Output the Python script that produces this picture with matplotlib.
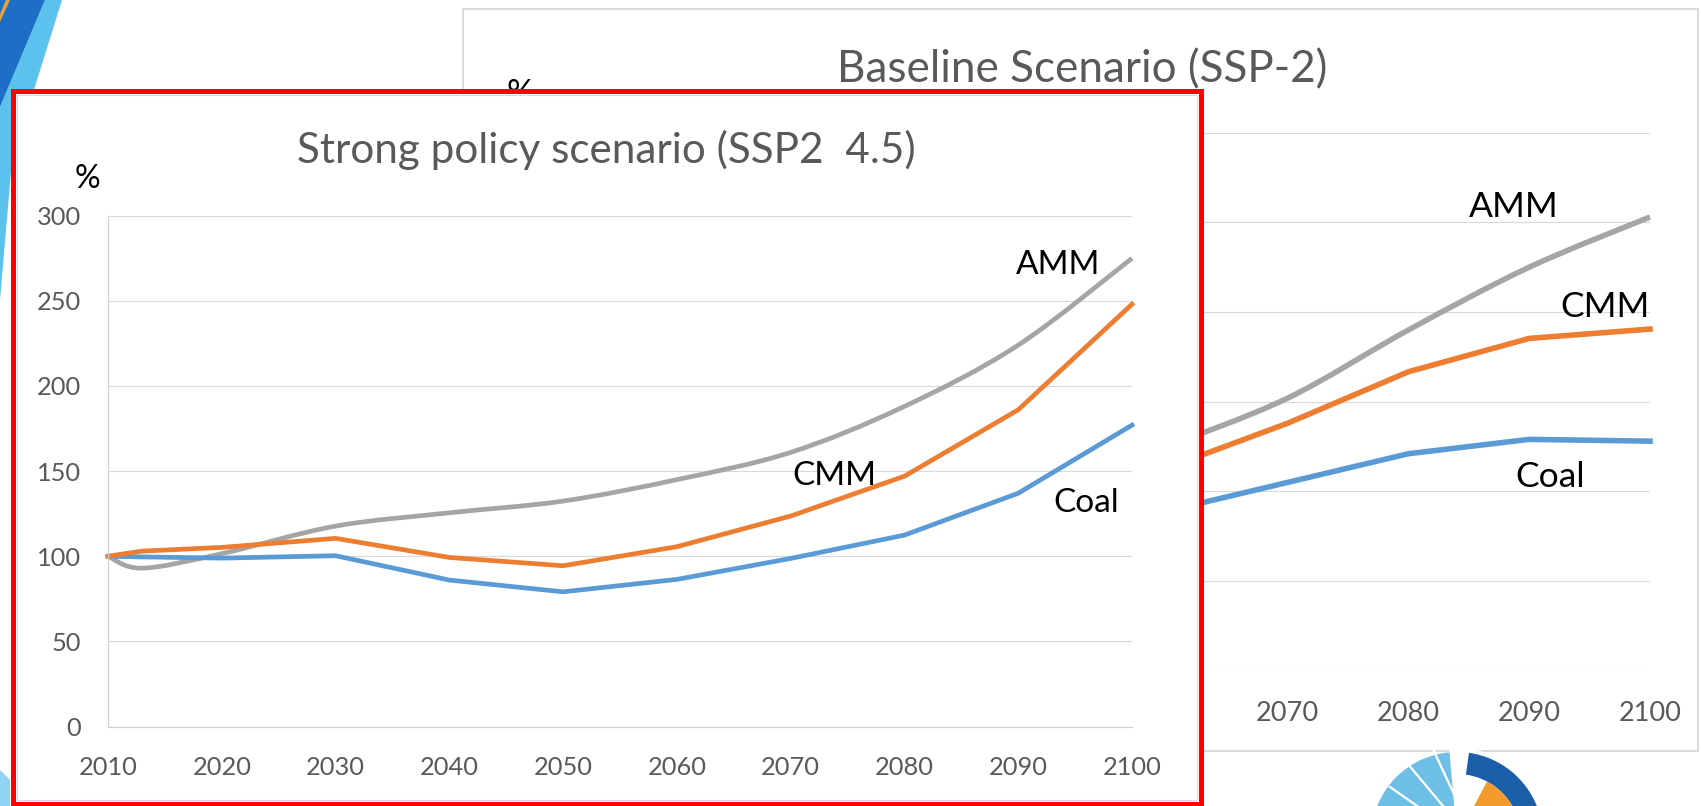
import matplotlib
matplotlib.use("Agg")
import matplotlib.pyplot as plt
from matplotlib.patches import Rectangle, Polygon, Wedge, PathPatch, Circle
from matplotlib.path import Path
from matplotlib.lines import Line2D
from matplotlib.transforms import Affine2D
import numpy as np

plt.rcParams['font.family'] = ['Lato', 'DejaVu Sans']

# ---------------- data ----------------
years_policy = [2010, 2013, 2020, 2030, 2040, 2050, 2060, 2070, 2080, 2090, 2100]
coal_policy = [100, 99.6, 98.9, 100.3, 86, 79.1, 86.4, 98.7, 112.4, 137, 177]
cmm_policy = [100, 103, 105.2, 110.5, 99.3, 94.4, 105.6, 123.6, 147, 186, 248]
amm_policy = [100, 93, 101.5, 117.7, 125.5, 132.4, 145, 161, 188, 224, 275]

# baseline chart: only the part to the right of the front chart is visible
years_base = [2060, 2070, 2080, 2090, 2100]
coal_base = [89, 105, 121, 129, 128]
cmm_base = [113, 138, 166.7, 185.3, 190.5]
amm_base = [125, 152, 190, 225, 253]

x_ticks = [2010, 2020, 2030, 2040, 2050, 2060, 2070, 2080, 2090, 2100]
y_ticks = [0, 50, 100, 150, 200, 250, 300]

title_policy = "Strong policy scenario (SSP2  4.5)"
title_base = "Baseline Scenario (SSP-2)"

C_COAL = '#5B9BD5'
C_CMM = '#ED7D31'
C_AMM = '#A5A5A5'
C_GRID = '#D9D9D9'
C_TXT = '#595959'

W, H, DPI = 1701, 806, 100
fig = plt.figure(figsize=(W / DPI, H / DPI), dpi=DPI)
fig.patch.set_facecolor('white')
# pixel transform (origin top-left)
px = Affine2D().scale(1 / DPI, -1 / DPI).translate(0, H / DPI) + fig.dpi_scale_trans


def smooth_path(xs, ys):
    pts = np.column_stack([xs, ys]).astype(float)
    verts = [pts[0]]
    codes = [Path.MOVETO]
    n = len(pts)
    for i in range(n - 1):
        p0 = pts[i - 1] if i > 0 else pts[i]
        p1 = pts[i]
        p2 = pts[i + 1]
        p3 = pts[i + 2] if i + 2 < n else pts[i + 1]
        verts += [p1 + (p2 - p0) / 6.0, p2 - (p3 - p1) / 6.0, p2]
        codes += [Path.CURVE4] * 3
    return Path(verts, codes)


def add_fig_patch(p, z):
    p.set_transform(px)
    p.set_zorder(z)
    fig.add_artist(p)


# ---------------- decorations ----------------
add_fig_patch(Polygon([(45, 0), (62, 0), (12, 160), (0, 300), (0, 107)], closed=True,
                      facecolor='#5BC2EE', edgecolor='none'), 0.5)
add_fig_patch(Polygon([(0, 0), (45, 0), (0, 107)], closed=True,
                      facecolor='#1C6FC4', edgecolor='none'), 0.6)
add_fig_patch(Polygon([(6, 0), (10, 0), (0, 22), (0, 14)], closed=True,
                      facecolor='#E8A03C', edgecolor='none'), 0.7)
add_fig_patch(Polygon([(0, 770), (10, 780), (10, 806), (0, 806)], closed=True,
                      facecolor='#8FD3F2', edgecolor='none'), 0.7)

# logo (bottom right)
add_fig_patch(Circle((1457, 838), 86, facecolor='#6DBFE6', edgecolor='none'), 1.2)
for ang in [200, 215, 230, 245, 258]:
    a = np.deg2rad(ang)
    ln = Line2D([1480, 1480 + 110 * np.cos(a)], [850, 850 + 110 * np.sin(a)],
                color='white', lw=1.6, transform=px, zorder=1.25)
    fig.add_artist(ln)
add_fig_patch(Wedge((1457, 838), 90, -95, 40, facecolor='white', edgecolor='none'), 1.27)
add_fig_patch(Wedge((1457, 838), 86, -82, 40, width=22, facecolor='#1B5FA8', edgecolor='none'), 1.3)
add_fig_patch(Wedge((1457, 838), 64, -62, 30, facecolor='#F39A2D', edgecolor='none'), 1.3)

# ---------------- back chart (baseline) ----------------
add_fig_patch(Rectangle((463, 9), 1698 - 463, 742, facecolor='white',
                        edgecolor='#D4D4D4', lw=1.2), 1)

bl, br, bt, bb = 563, 1650, 132.7, 670.7
axb = fig.add_axes([bl / W, 1 - bb / H, (br - bl) / W, (bb - bt) / H])
axb.set_zorder(2)
axb.patch.set_alpha(0)
axb.set_xlim(2010, 2100)
axb.set_ylim(0, 300)
axb.set_xticks(x_ticks)
axb.set_yticks(y_ticks)
axb.tick_params(axis='y', length=0, labelleft=False)
axb.tick_params(axis='x', length=0, pad=22.0, labelsize=19.5, labelcolor=C_TXT)
for s in axb.spines.values():
    s.set_visible(False)
axb.grid(axis='y', color=C_GRID, lw=0.8)
axb.set_axisbelow(True)
axb.plot(years_base, coal_base, color=C_COAL, lw=4.0, solid_joinstyle='round', clip_on=False)
axb.plot(years_base, cmm_base, color=C_CMM, lw=4.0, solid_joinstyle='round', clip_on=False)
axb.add_patch(PathPatch(smooth_path(years_base, amm_base), fill=False, edgecolor=C_AMM,
                        lw=4.0, joinstyle='round', clip_on=False))
axb.text(2088.7, 253.2, 'AMM', ha='center', va='baseline', fontsize=25.5, color='black')
axb.text(2096.3, 197.1, 'CMM', ha='center', va='baseline', fontsize=25.5, color='black')
axb.text(2091.7, 102.6, 'Coal', ha='center', va='baseline', fontsize=25.5, color='black')

fig.text(1082.5 / W, 1 - 82 / H, title_base, ha='center', va='baseline',
         fontsize=31.7, color=C_TXT, zorder=2.5)
fig.text(520 / W, 1 - 103 / H, '%', ha='center', va='baseline',
         fontsize=24, color='black', zorder=2.5)

# ---------------- front chart (strong policy) ----------------
add_fig_patch(Rectangle((12.5, 90.5), 1200.5 - 12.5, 803.5 - 90.5, facecolor='white',
                        edgecolor='#FF0000', lw=3.6), 3)
add_fig_patch(Rectangle((16.5, 94.5), 1196.5 - 16.5, 799.5 - 94.5, fill=False,
                        edgecolor='#D9D9D9', lw=0.8), 3.1)

fl, fr, ft, fb = 108, 1132, 215.7, 726.5
axf = fig.add_axes([fl / W, 1 - fb / H, (fr - fl) / W, (fb - ft) / H])
axf.set_zorder(4)
axf.patch.set_alpha(0)
axf.set_xlim(2010, 2100)
axf.set_ylim(0, 300)
axf.set_xticks(x_ticks)
axf.set_yticks(y_ticks)
axf.tick_params(axis='y', length=0, pad=19.4, labelsize=18.3, labelcolor=C_TXT)
axf.tick_params(axis='x', length=0, pad=21.0, labelsize=18.3, labelcolor=C_TXT)
for k in ['top', 'right']:
    axf.spines[k].set_visible(False)
for k in ['left', 'bottom']:
    axf.spines[k].set_color('#D0D0D0')
    axf.spines[k].set_linewidth(0.9)
axf.grid(axis='y', color=C_GRID, lw=0.8)
axf.set_axisbelow(True)
axf.plot(years_policy, coal_policy, color=C_COAL, lw=3.4, solid_joinstyle='round', clip_on=False)
axf.plot(years_policy, cmm_policy, color=C_CMM, lw=3.4, solid_joinstyle='round', clip_on=False)
axf.add_patch(PathPatch(smooth_path(years_policy, amm_policy), fill=False, edgecolor=C_AMM,
                        lw=3.4, joinstyle='round', clip_on=False))
axf.text(2093.5, 265.8, 'AMM', ha='center', va='baseline', fontsize=24, color='black')
axf.text(2073.8, 141.8, 'CMM', ha='center', va='baseline', fontsize=24, color='black')
axf.text(2096.0, 126.2, 'Coal', ha='center', va='baseline', fontsize=24, color='black')

fig.text(606.5 / W, 1 - 163.3 / H, title_policy, ha='center', va='baseline',
         fontsize=30.4, color=C_TXT, zorder=5)
fig.text(87 / W, 1 - 188 / H, '%', ha='center', va='baseline',
         fontsize=23, color='black', zorder=5)

fig.savefig('out.png', dpi=DPI, facecolor='white')
